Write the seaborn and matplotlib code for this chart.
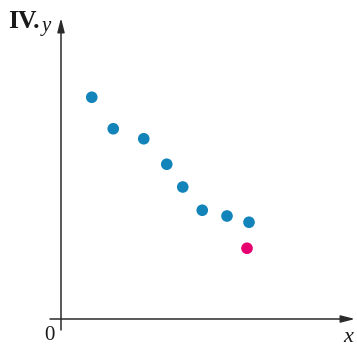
import matplotlib
matplotlib.use("Agg")
import matplotlib.pyplot as plt
import seaborn as sns
import pandas as pd

# data
x_vals = [1.23, 2.09, 3.31, 4.23, 4.87, 5.65, 6.64, 7.52, 7.44]
y_vals = [8.87, 7.61, 7.21, 6.19, 5.28, 4.35, 4.12, 3.87, 2.83]
groups = ["main"] * 8 + ["outlier"]

PALETTE = {"main": "#1284b9", "outlier": "#e6006f"}
AXIS_COLOR = "#2b2b2b"
TEXT_COLOR = "#1a1a1a"

sns.set_theme(style="white")
plt.rcParams["font.family"] = ["Liberation Serif", "DejaVu Serif"]

df = pd.DataFrame({"x": x_vals, "y": y_vals, "group": groups})

fig = plt.figure(figsize=(3.57, 3.45), dpi=100)
ax = fig.add_axes([0, 0, 1, 1])
ax.set_xlim(-2.44, 11.84)
ax.set_ylim(-1.04, 12.76)
ax.axis("off")

# axes drawn as arrows through the origin
arrow = dict(arrowstyle="-|>,head_length=0.7,head_width=0.18",
             color=AXIS_COLOR, lw=1.1, shrinkA=0, shrinkB=0)
ax.annotate("", xy=(11.76, 0), xytext=(-0.44, 0), arrowprops=arrow)
ax.annotate("", xy=(0, 12.04), xytext=(0, -0.44), arrowprops=arrow)

sns.scatterplot(data=df, x="x", y="y", hue="group", palette=PALETTE,
                s=70, edgecolor="none", legend=False, ax=ax, zorder=3)

ax.text(-2.1, 11.92, "IV.", fontsize=18.5, fontweight="bold",
        ha="left", va="center", color=TEXT_COLOR)
ax.text(-0.78, 11.68, "y", fontsize=15, style="italic",
        ha="left", va="center", color=TEXT_COLOR)
ax.text(-0.48, -0.68, "0", fontsize=15, ha="center", va="center",
        color=TEXT_COLOR)
ax.text(11.48, -0.72, "x", fontsize=16, style="italic",
        ha="center", va="center", color=TEXT_COLOR)

fig.savefig("out.png", dpi=100)
